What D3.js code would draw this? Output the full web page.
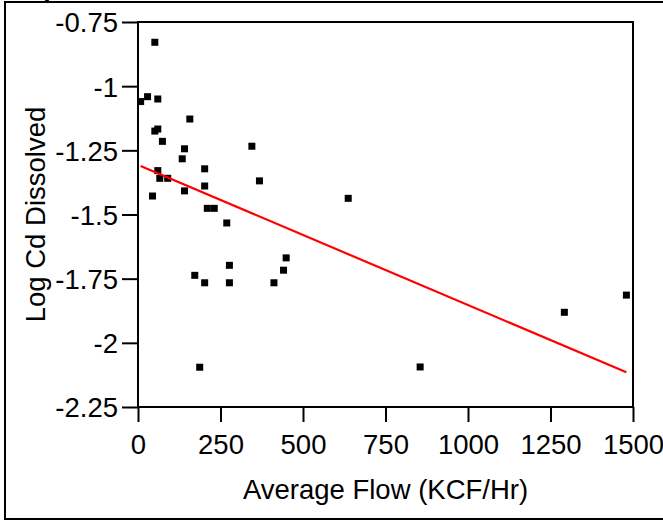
<!DOCTYPE html>
<html>
<head>
<meta charset="utf-8">
<script src="https://cdn.jsdelivr.net/npm/d3@7"></script>
<style>
  body { margin: 0; background: #fff; }
  svg text { font-family: "Liberation Sans", Arial, sans-serif; fill: #000; }
</style>
</head>
<body>
<div id="chart"></div>
<script>
// average flow (KCF/Hr) vs log Cd dissolved
var flow = [51, 8, 29, 60, 157, 60, 51, 74, 141, 345, 134, 202, 60, 66, 90, 368, 202, 141, 44,
            210, 231, 269, 449, 277, 172, 441, 202, 277, 412, 187, 637, 1292, 1480, 855];
var logCd = [-0.829, -1.06, -1.041, -1.05, -1.128, -1.167, -1.175, -1.215, -1.244, -1.234, -1.283,
             -1.322, -1.329, -1.359, -1.359, -1.369, -1.389, -1.408, -1.428, -1.476, -1.476, -1.533,
             -1.669, -1.698, -1.737, -1.717, -1.766, -1.766, -1.766, -2.095, -1.437, -1.881, -1.814, -2.094];

// fitted line end points
var fitX = [8, 1480];
var fitY = [-1.311, -2.115];

var xTicks = [0, 250, 500, 750, 1000, 1250, 1500];
var yTicks = [-0.75, -1, -1.25, -1.5, -1.75, -2, -2.25];

var W = 663, H = 521;
var pLeft = 138, pRight = 633, pTop = 22, pBottom = 407;
var fs = 27.5;

var svg = d3.select("#chart").append("svg").attr("width", W).attr("height", H);

// outer report frame
svg.append("rect")
    .attr("x", 5).attr("y", 2).attr("width", 700).attr("height", 517)
    .attr("fill", "none").attr("stroke", "#000").attr("stroke-width", 2);
// disclosure triangle tip poking in at the top
svg.append("path")
    .attr("d", "M40,-6 L54,-6 L47,3 Z")
    .attr("fill", "#000");

var x = d3.scaleLinear().domain([0, 1500]).range([pLeft, pRight]);
var y = d3.scaleLinear().domain([-2.25, -0.75]).range([pBottom, pTop]);

var fmt = function(d) { return String(d); };

var xAxis = svg.append("g")
    .attr("transform", "translate(0," + pBottom + ")")
    .call(d3.axisBottom(x).tickValues(xTicks).tickFormat(fmt).tickSize(15).tickPadding(12));
var yAxis = svg.append("g")
    .attr("transform", "translate(" + pLeft + ",0)")
    .call(d3.axisLeft(y).tickValues(yTicks).tickFormat(fmt).tickSize(16).tickPadding(4));

[xAxis, yAxis].forEach(function(a) {
  a.select(".domain").remove();
  a.selectAll(".tick line").attr("stroke", "#000").attr("stroke-width", 2);
  a.selectAll(".tick text").attr("font-size", fs).style("font-family", "'Liberation Sans', Arial, sans-serif");
});
xAxis.selectAll(".tick text").attr("dy", "0.71em");
yAxis.selectAll(".tick text").attr("dy", "0.36em");

// plot frame
svg.append("rect")
    .attr("x", pLeft).attr("y", pTop)
    .attr("width", pRight - pLeft).attr("height", pBottom - pTop)
    .attr("fill", "none").attr("stroke", "#000").attr("stroke-width", 2);

// points
var s = 7;
svg.append("g").selectAll("rect")
    .data(flow.map(function(d, i) { return [d, logCd[i]]; }))
    .enter().append("rect")
    .attr("x", function(d) { return x(d[0]) - s / 2; })
    .attr("y", function(d) { return y(d[1]) - s / 2; })
    .attr("width", s).attr("height", s)
    .attr("fill", "#000");

// fit line
var line = d3.line()
    .x(function(d) { return x(d[0]); })
    .y(function(d) { return y(d[1]); });
svg.append("path")
    .datum(fitX.map(function(d, i) { return [d, fitY[i]]; }))
    .attr("d", line)
    .attr("fill", "none").attr("stroke", "#ff0000").attr("stroke-width", 2.2);

// axis titles
svg.append("text")
    .attr("x", (pLeft + pRight) / 2).attr("y", 499)
    .attr("text-anchor", "middle").attr("font-size", fs)
    .text("Average Flow (KCF/Hr)");
svg.append("text")
    .attr("transform", "translate(45," + (pTop + pBottom) / 2 + ") rotate(-90)")
    .attr("text-anchor", "middle").attr("font-size", fs)
    .text("Log Cd Dissolved");
</script>
</body>
</html>
